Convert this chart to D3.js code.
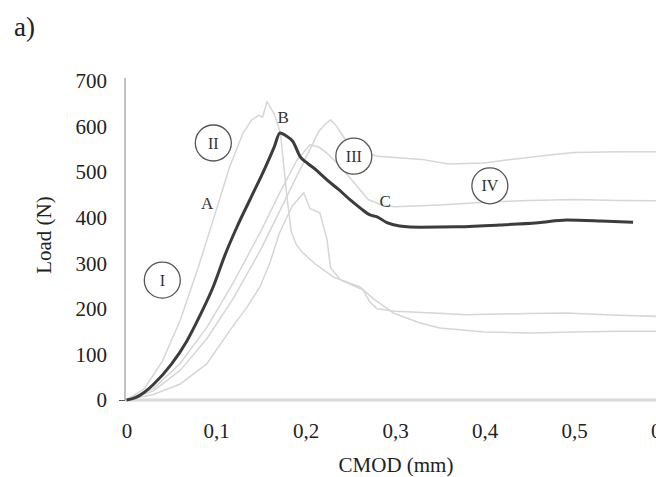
<!DOCTYPE html>
<html>
<head>
<meta charset="utf-8">
<script src="https://cdn.jsdelivr.net/npm/d3@7"></script>
<style>
  body { margin: 0; background: #fff; }
  svg { display: block; font-family: "Liberation Serif", "DejaVu Serif", serif; }
</style>
</head>
<body>
<svg id="chart" width="656" height="477"></svg>
<script>
// tick values
const xTicks = [0, 0.1, 0.2, 0.3, 0.4, 0.5, 0.6];
const yTicks = [0, 100, 200, 300, 400, 500, 600, 700];

// mean curve (thick) : [CMOD mm, load N]
const meanCurve = [[0,0],[0.01,5],[0.02,17],[0.03,34],[0.05,78],[0.067,128],[0.082,185],[0.097,249],[0.11,318],
  [0.123,378],[0.138,440],[0.155,510],[0.165,555],[0.1715,586],[0.178,580],[0.186,567],[0.194,534],
  [0.202,520],[0.213,503],[0.224,483],[0.237,462],[0.25,439],[0.262,420],[0.272,406],[0.28,402],
  [0.291,389],[0.305,382],[0.328,379],[0.37,380],[0.417,384],[0.46,389],[0.492,395],[0.53,393],[0.566,390]];

// individual specimens (light grey)
const spec1 = [[0,0],[0.02,25],[0.04,85],[0.06,175],[0.08,290],[0.1,415],[0.115,510],[0.13,585],
  [0.14,615],[0.148,625],[0.152,620],[0.157,655],[0.165,628],[0.172,586],[0.179,450],[0.184,370],
  [0.19,340],[0.197,323],[0.21,300],[0.231,270],[0.261,248],[0.276,222],[0.298,191],[0.328,169],
  [0.35,158],[0.4,149],[0.45,147],[0.5,149],[0.55,151],[0.6,151]];
const spec2 = [[0,0],[0.03,25],[0.06,80],[0.09,160],[0.12,260],[0.15,370],[0.17,450],[0.19,525],
  [0.205,560],[0.215,555],[0.225,540],[0.24,510],[0.255,475],[0.27,440],[0.285,428],[0.3,424],
  [0.35,428],[0.4,434],[0.45,438],[0.5,440],[0.55,438],[0.6,437]];
const spec3 = [[0,0],[0.03,20],[0.06,65],[0.09,135],[0.12,225],[0.15,330],[0.17,410],[0.19,490],
  [0.205,550],[0.215,590],[0.222,605],[0.228,615],[0.235,600],[0.245,570],[0.26,548],[0.28,535],
  [0.3,532],[0.33,528],[0.36,518],[0.4,520],[0.43,528],[0.47,537],[0.5,543],[0.55,545],[0.6,545]];
const spec4 = [[0,0],[0.03,12],[0.06,35],[0.09,80],[0.116,154],[0.135,205],[0.149,248],[0.16,300],
  [0.171,367],[0.185,425],[0.198,455],[0.205,420],[0.216,411],[0.224,352],[0.228,290],[0.239,264],
  [0.264,242],[0.272,215],[0.28,200],[0.3,195],[0.343,191],[0.38,187],[0.45,190],[0.49,191],
  [0.55,186],[0.6,183]];
const specimens = [spec1, spec2, spec3, spec4];

// annotations: stage numerals (circled) and points
const stageLabels = ["I", "II", "III", "IV"];
const stagePos = [[0.040, 263], [0.097, 564], [0.254, 535], [0.406, 470]];
const pointLabels = ["A", "B", "C"];
const pointPos = [[0.090, 432], [0.175, 621], [0.289, 437]];

const svg = d3.select("#chart");

const x = d3.scaleLinear().domain([0, 0.6]).range([126.5, 663.5]);
const y = d3.scaleLinear().domain([0, 700]).range([400, 81]);

const fmt = d => (d === 0 ? "0" : d3.format(".1f")(d).replace(".", ","));

// x axis: light thick baseline, no ticks
const xAxis = svg.append("g")
    .attr("transform", "translate(0,400)")
    .call(d3.axisBottom(x).tickValues(xTicks).tickFormat(fmt).tickSize(0).tickPadding(23));
xAxis.select(".domain").attr("stroke", "#dadada").attr("stroke-width", 3)
    .attr("d", "M125,0H700");
xAxis.selectAll("text").attr("font-size", 21).attr("fill", "#222")
    .attr("font-family", "Liberation Serif");

// y axis
const yAxis = svg.append("g")
    .attr("transform", "translate(125,0)")
    .call(d3.axisLeft(y).tickValues(yTicks).tickSize(0).tickPadding(18));
yAxis.select(".domain").attr("stroke", "#888").attr("stroke-width", 1).attr("d", "M0,78V400");
yAxis.selectAll("text").attr("font-size", 21).attr("fill", "#222")
    .attr("font-family", "Liberation Serif");
yAxis.selectAll(".tick").filter(d => d === 0).select("line")
    .attr("x2", -6).attr("stroke", "#555");

// axis titles
svg.append("text")
    .attr("x", 396).attr("y", 472)
    .attr("text-anchor", "middle")
    .attr("font-size", 21).attr("fill", "#222")
    .text("CMOD (mm)");
svg.append("text")
    .attr("transform", "translate(51,235) rotate(-90)")
    .attr("text-anchor", "middle")
    .attr("font-size", 21).attr("fill", "#222")
    .text("Load (N)");

// panel label
svg.append("text")
    .attr("x", 14).attr("y", 36)
    .attr("font-size", 27).attr("fill", "#222")
    .text("a)");

const line = d3.line().x(d => x(d[0])).y(d => y(d[1]));
const smoothLine = d3.line().x(d => x(d[0])).y(d => y(d[1])).curve(d3.curveMonotoneX);

svg.append("g").selectAll("path")
    .data(specimens)
    .enter()
    .append("path")
    .attr("d", line)
    .attr("fill", "none")
    .attr("stroke", "#d6d6d6")
    .attr("stroke-width", 1.5)
    .attr("stroke-linejoin", "round");

svg.append("path")
    .datum(meanCurve)
    .attr("d", smoothLine)
    .attr("fill", "none")
    .attr("stroke", "#3c3c3c")
    .attr("stroke-width", 3)
    .attr("stroke-linejoin", "round");

// circled stage numerals
const stages = svg.append("g").selectAll("g")
    .data(stageLabels)
    .enter()
    .append("g")
    .attr("transform", (d, i) => `translate(${x(stagePos[i][0])},${y(stagePos[i][1])})`);
stages.append("circle")
    .attr("r", 18)
    .attr("fill", "#fff")
    .attr("stroke", "#555")
    .attr("stroke-width", 1.3);
stages.append("text")
    .attr("text-anchor", "middle")
    .attr("dy", "0.35em")
    .attr("font-size", 16).attr("fill", "#333")
    .text(d => d);

// point letters
svg.append("g").selectAll("text")
    .data(pointLabels)
    .enter()
    .append("text")
    .attr("x", (d, i) => x(pointPos[i][0]))
    .attr("y", (d, i) => y(pointPos[i][1]))
    .attr("text-anchor", "middle")
    .attr("dy", "0.35em")
    .attr("font-size", 17).attr("fill", "#333")
    .text(d => d);
</script>
</body>
</html>
